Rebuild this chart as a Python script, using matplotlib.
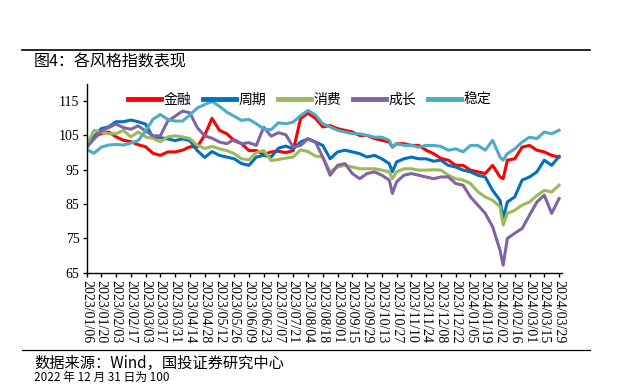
import matplotlib
matplotlib.use('Agg')
import matplotlib.pyplot as plt
from matplotlib.lines import Line2D
import pandas as pd

plt.rcParams['font.family'] = ['Noto Sans CJK SC', 'DejaVu Sans']

# weekly dates plus two extra trough days
weekly = list(pd.date_range('2023-01-06', '2024-03-29', freq='7D'))
extra = [pd.Timestamp('2023-10-23'), pd.Timestamp('2024-02-05')]
dates = sorted(weekly + extra)

jinrong = [102.0, 104.5, 105.6, 106, 104.6, 103.6, 103.2, 102.3, 101.7, 99.8, 99.2, 100.2, 100.2, 100.7, 101.7, 101.7, 105,
           110, 106.5, 105.5, 103.5, 102.6, 100.6, 100.6, 99.4, 100.2, 100.4, 100, 100.6, 110, 111.5, 110,
           107.5, 107.9, 107, 106.5, 106, 105, 105, 104.1, 103.6, 103.1, 101.6, 102.6, 102.6, 102.1, 102.1, 100.7, 99.7,
           98.3, 97.8, 96.3, 96.3, 94.9, 94.4, 93.9, 96.3, 92.9, 92.4, 97.8, 98.2, 101.6, 102.1, 100.7, 100.2, 99.2, 98.7]
zhouqi = [101.5, 104.6, 107, 107.5, 109, 109, 109.5, 109, 108.3, 104.4, 104.4, 104, 103.5, 104, 103.5, 100.6, 98.6,
          100.3, 99.2, 98.7, 98.2, 96.8, 96.3, 98.7, 99.2, 98.7, 101.3, 101.9, 101.1, 103.1, 104, 103.1,
          102.1, 98.2, 100.2, 100.7, 100.2, 99.7, 98.7, 99.2, 98.2, 96.8, 94.4, 97.3, 98.2, 98.7, 98.2, 98.2, 97.5,
          97.8, 96.3, 95.8, 94.9, 94.4, 93.4, 92.9, 89, 86.1, 80.8, 85.6, 87.1, 92, 92.9, 94.4, 97.8, 96.3, 98.9]
xiaofei = [102.0, 106.5, 106, 105.5, 105.5, 106.5, 104.6, 106, 104.6, 104.1, 103.2, 104.6, 104.9, 104.6, 104.1, 102.2, 101.2,
           101.8, 101.1, 100.6, 99.7, 98.2, 97.9, 100, 100.6, 97.7, 98, 98.4, 98.7, 100.8, 100.3, 99,
           98.7, 94.4, 95.8, 96.3, 95.8, 95.3, 95.3, 95.3, 94.9, 94.4, 92.4, 94.4, 95.3, 95.3, 94.9, 94.9, 95,
           94.9, 93.4, 92.4, 92, 91, 88.6, 87.1, 86.1, 84.2, 78.9, 82.3, 83.2, 84.7, 85.6, 87.5, 89, 88.5, 90.5]
chengzhang = [101.5, 103.9, 106.3, 107.3, 108.3, 107.3, 106.8, 107.8, 106.3, 104.9, 104.9, 109.2, 110.6, 112.1, 111.6, 107.3, 104.9,
              104.2, 103.1, 102.6, 103.8, 102.6, 102.9, 102.1, 107.4, 104.8, 105.8, 105.2, 101.6, 102.1, 104, 103.1,
              98.7, 93.4, 96.3, 96.8, 93.9, 92.4, 93.9, 94.4, 93.4, 92, 88.1, 91.5, 93.4, 93.9, 93.4, 92.9, 92.4,
              92.9, 92.9, 91, 90.5, 87.1, 84.7, 82.3, 78.4, 71.6, 67.2, 75, 76.5, 77.9, 81.8, 85.6, 87.6, 82.3, 86.6]
wending = [101.0, 99.8, 101.6, 102.2, 102.4, 102.2, 102.8, 103.5, 106.3, 109.7, 111.1, 109.7, 109.2, 109.2, 111, 113, 114,
           114.9, 113.5, 111.8, 110.6, 109.4, 109.7, 108.4, 106.9, 106.7, 108.7, 108.4, 108.9, 110.8, 112.3, 111,
           108.4, 107.5, 106.5, 106, 105.5, 105.5, 105, 104.5, 104.5, 103.6, 101.6, 102.6, 102.1, 102.1, 101.6, 102.1, 102.1,
           101.8, 100.7, 101.1, 100.2, 102.1, 102.1, 100.7, 103.6, 98.7, 97.8, 99.7, 101.1, 103.1, 104.5, 104.1, 106, 105.5, 106.5]

names = ['金融', '周期', '消费', '成长', '稳定']
colors = ['#FF0000', '#0070C0', '#9BBB59', '#8064A2', '#4BACC6']
series = [jinrong, zhouqi, xiaofei, chengzhang, wending]
yticks = [65, 75, 85, 95, 105, 115]

fig = plt.figure(figsize=(6.18, 3.85), dpi=100)
ax = fig.add_axes([86.5 / 618, 1 - 272.7 / 385, (561.7 - 86.5) / 618, (272.7 - 84) / 385])

for s, c, n in zip(series, colors, names):
    ax.plot(dates, s, color=c, lw=2.2, label=n, solid_joinstyle='round')

ax.set_ylim(65, 120)
ax.set_yticks(yticks)
ax.set_xlim(pd.Timestamp('2023-01-06'), pd.Timestamp('2024-03-31 12:00'))
ticks = pd.date_range('2023-01-06', '2024-03-29', freq='14D')
ax.set_xticks(ticks)
ax.set_xticklabels([d.strftime('%Y/%m/%d') for d in ticks], rotation=270,
                   fontfamily='Liberation Serif', fontsize=10)
for lab in ax.get_yticklabels():
    lab.set_fontfamily('Liberation Serif')
    lab.set_fontsize(10)
ax.tick_params(axis='both', direction='out', length=3, width=1, color='black', pad=2)
for sp in ['top', 'right']:
    ax.spines[sp].set_visible(False)
for sp in ['left', 'bottom']:
    ax.spines[sp].set_color('black')
    ax.spines[sp].set_linewidth(1)

leg = ax.legend(loc='upper center', bbox_to_anchor=(0.469, 1.02), ncol=5, frameon=False,
                handlelength=2.4, handletextpad=0.15, columnspacing=0.85,
                prop={'family': 'Noto Sans CJK SC', 'size': 10})
for h in leg.get_lines():
    h.set_linewidth(3.5)

fig.add_artist(Line2D([22 / 618, 590 / 618], [1 - 50 / 385, 1 - 50 / 385], color='black', lw=1.2))
fig.add_artist(Line2D([22 / 618, 590 / 618], [1 - 350 / 385, 1 - 350 / 385], color='black', lw=0.9))
fig.text(34 / 618, 1 - 62 / 385, '图4：各风格指数表现', fontsize=11.5, va='center', ha='left')
fig.text(34 / 618, 1 - 363 / 385, '数据来源：Wind，国投证券研究中心', fontsize=11, va='center', ha='left')
fig.text(34 / 618, 1 / 385, '2022 年 12 月 31 日为 100', fontsize=8.5, va='bottom', ha='left')

fig.savefig('out.png', dpi=100)
